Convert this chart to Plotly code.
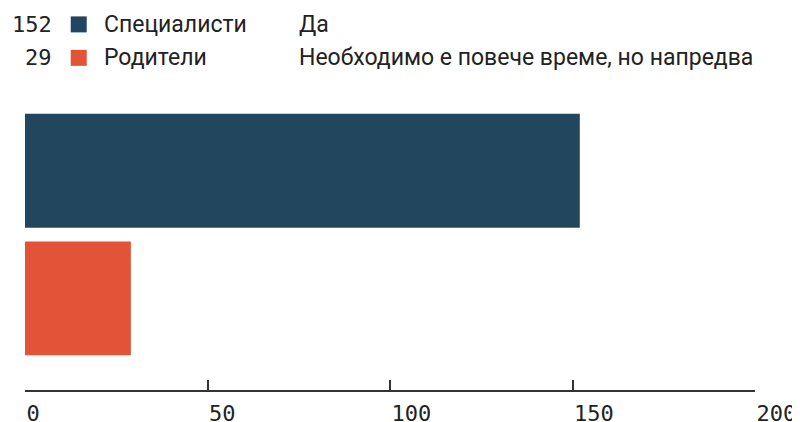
import plotly.graph_objects as go

# data
groups = ['Специалисти', 'Родители']
counts = [152, 29]
answers = ['Да', 'Необходимо е повече време, но напредва']
colors = ['#22465e', '#e25338']
x_ticks = [0, 50, 100, 150, 200]

TEXT = '#222222'
font_main = 'Roboto, Noto Sans, sans-serif'
font_num = 'DejaVu Sans Mono, Liberation Mono, monospace'

# the page body adds an 8px offset, so positions are shifted up/left by 8px
FIG_W, FIG_H = 800, 422
# plot area in figure pixels
L, R, T, B = 17.3, 747, 99.2, 382.5
W, H = R - L, B - T


def px_x(px):
    return (px - L) / W


def px_y(py):
    return (B - py) / H


fig = go.Figure()
fig.add_trace(go.Bar(
    x=counts,
    y=groups,
    orientation='h',
    marker=dict(color=colors, line=dict(width=0)),
    hoverinfo='x+y',
    showlegend=False,
))

# custom legend at the top: value, colour square, group, answer
row_y = [16.5, 50]
annotations = []
shapes = []
for i, (g, c, a, col) in enumerate(zip(groups, counts, answers, colors)):
    yp = px_y(row_y[i])
    annotations.append(dict(xref='paper', yref='paper', x=px_x(46), y=yp,
                            text=str(c), showarrow=False, xanchor='right', yanchor='middle',
                            font=dict(family=font_num, size=22, color=TEXT)))
    annotations.append(dict(xref='paper', yref='paper', x=px_x(94), y=yp,
                            text=g, showarrow=False, xanchor='left', yanchor='middle',
                            font=dict(family=font_main, size=23, color=TEXT)))
    annotations.append(dict(xref='paper', yref='paper', x=px_x(289), y=yp,
                            text=a, showarrow=False, xanchor='left', yanchor='middle',
                            font=dict(family=font_main, size=23, color=TEXT)))
    shapes.append(dict(type='rect', xref='paper', yref='paper',
                       x0=px_x(63), x1=px_x(79),
                       y0=px_y(row_y[i] + 8), y1=px_y(row_y[i] - 8),
                       fillcolor=col, line=dict(width=0), layer='above'))

# y axis: categories reversed, with extra room below so the axis sits lower
fig.update_yaxes(
    type='category',
    categoryorder='array',
    categoryarray=groups,
    range=[1.718, -0.5],
    visible=False,
    fixedrange=True,
)

fig.update_xaxes(
    range=[0, 200],
    tickvals=x_ticks,
    showgrid=False,
    zeroline=False,
    showline=True,
    linecolor='#333333',
    linewidth=1.5,
    ticks='inside',
    ticklen=10,
    tickwidth=1.5,
    tickcolor='#333333',
    ticklabelposition='outside right',
    ticklabelstandoff=3,
    tickfont=dict(family=font_num, size=22, color=TEXT),
    automargin=False,
    fixedrange=True,
)

fig.update_layout(
    width=FIG_W,
    height=FIG_H,
    margin=dict(l=L, r=FIG_W - R, t=T, b=FIG_H - B, pad=0),
    paper_bgcolor='white',
    plot_bgcolor='white',
    bargap=0.107,
    annotations=annotations,
    shapes=shapes,
)

fig.write_html('out.html')
